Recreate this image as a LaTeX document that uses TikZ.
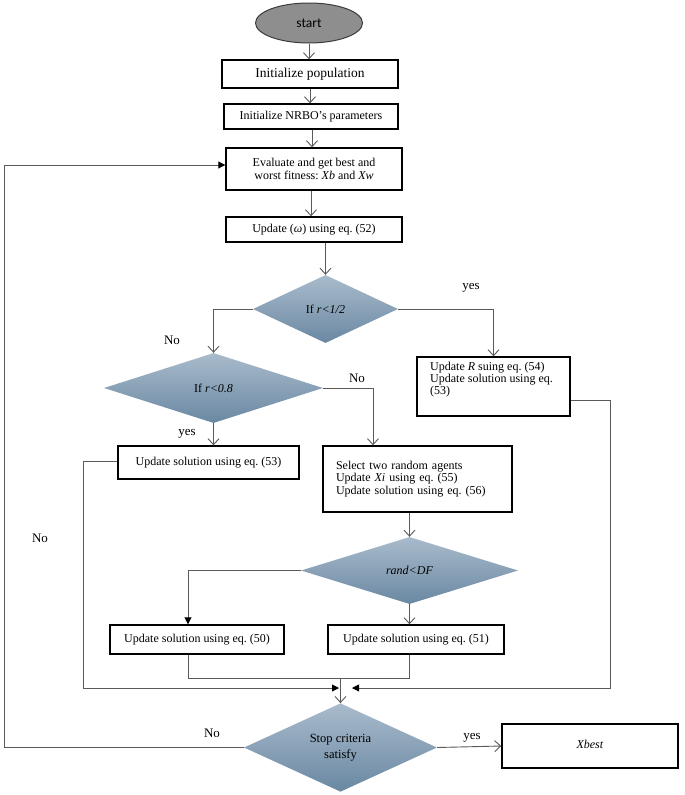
\documentclass[tikz,border=0pt]{standalone}
\usepackage{fontspec}
\setmainfont{Liberation Serif}
\newfontfamily\startfont{Carlito}
\usetikzlibrary{shapes.geometric,arrows.meta,calc}
\definecolor{linegray}{HTML}{5A5A5A}
\definecolor{diatop}{HTML}{A9BBCC}
\definecolor{diabot}{HTML}{6A88A2}
\definecolor{startgray}{HTML}{8E8E8E}
\definecolor{startborder}{HTML}{3C3C3C}
\frenchspacing
\begin{document}
\frenchspacing
\begin{tikzpicture}[x=1pt,y=-1pt,
  box/.style={draw=black,line width=1.4pt,fill=white,rectangle,inner sep=0pt,font=\fontsize{12}{13.5}\selectfont},
  dia/.style={diamond,inner sep=0pt,top color=diatop,bottom color=diabot,draw=none,font=\fontsize{12}{14}\selectfont},
  conn/.style={draw=linegray,line width=0.9pt},
  oarr/.style={conn,-{Straight Barb[length=6pt,width=11pt]}},
  farr/.style={conn,-{Triangle[length=7pt,width=7pt,color=black]}},
  lbl/.style={font=\fontsize{13}{15}\selectfont,inner sep=0pt}
]
\fill[white] (0,0) rectangle (685,795);
\useasboundingbox (0,0) rectangle (685,795);

% nodes
\node[ellipse, draw=startborder, line width=1pt, fill=startgray, minimum width=107pt, minimum height=40pt, inner sep=0pt, font=\startfont\fontsize{13.5}{15}\selectfont] (start) at (309,23) {start};
\node[box, minimum width=176pt, minimum height=28pt, font=\fontsize{13.5}{16}\selectfont] (init) at (310,74) {Initialize population};
\node[box, minimum width=174pt, minimum height=25pt] (nrbo) at (311,116.5) {Initialize NRBO's parameters};
\node[box, minimum width=176pt, minimum height=42pt, align=center] (eval) at (314,169) {Evaluate and get best and\\worst fitness: \textit{Xb} and \textit{Xw}};
\node[box, minimum width=176pt, minimum height=25pt] (omega) at (314,229.5) {Update (\textit{ω}) using eq. (52)};

\node[dia, minimum width=145pt, minimum height=68pt] (d1) at (325.5,309) {If \textit{r<1/2}};
\node[dia, minimum width=219pt, minimum height=70pt] (d2) at (213.5,388) {If \textit{r<0.8}};

\node[box, minimum width=153pt, minimum height=59pt] (rbox) at (493.5,386.5) {};
\node[anchor=north west, inner sep=0pt, align=left, font=\fontsize{12}{12}\selectfont] (rtext) at (430,362) {Update \textit{R} suing eq. (54)\\Update solution using eq.\\(53)};

\node[box, minimum width=181pt, minimum height=33pt] (box53) at (208.5,462.5) {Update solution using eq. (53)};
\node[box, minimum width=189pt, minimum height=66pt, text width=163pt, align=left, font=\fontsize{12}{12.5}\selectfont] (sel) at (417.5,479) {Select two random agents\\Update \textit{Xi} using eq. (55)\\Update solution using eq. (56)};

\node[dia, minimum width=217pt, minimum height=67pt] (d3) at (409.5,570.5) {\textit{rand<DF}};
\node[box, minimum width=174pt, minimum height=29pt] (b50) at (197,639.5) {Update solution using eq. (50)};
\node[box, minimum width=176pt, minimum height=29pt] (b51) at (416,639.5) {Update solution using eq. (51)};

\node[dia, minimum width=193pt, minimum height=81pt, align=center, font=\fontsize{12.5}{16}\selectfont] (d4) at (340.5,747.5) {Stop criteria\\satisfy};
\node[box, minimum width=176pt, minimum height=44pt] (xbest) at (590,746) {\raisebox{4pt}{\textit{Xbest}}};

% coordinates
\coordinate (k2) at (373,388);
\coordinate (k3) at (188,570.5);
\coordinate (u1) at (188,678);
\coordinate (u2) at (409.5,678);
\coordinate (m) at (340.5,678);
\coordinate (lb) at (83,688);
\coordinate (lt) at (339,688);
\coordinate (rb) at (610,688);
\coordinate (rt) at (352,688);
\coordinate (lp) at (4,747.5);
\coordinate (lq) at (4,165);

% connectors
\draw[oarr] (start.south) -- (start.south |- init.north);
\draw[oarr] (init.south) -- (init.south |- nrbo.north);
\draw[oarr] ($(nrbo.south)+(1,0)$) -- ($(nrbo.south |- eval.north)+(1,0)$);
\draw[oarr] ($(eval.south)+(-3,0)$) -- ($(omega.north)+(-3,0)$);
\draw[oarr] (omega.south -| d1.north) -- (d1.north);
\draw[oarr] (d1.west) -| (d2.north);
\draw[oarr] (d1.east) -| (rbox.north);
\draw[oarr] (d2.east) -- (k2) -- (k2 |- sel.north);
\draw[oarr] (d2.south) -- (d2.south |- box53.north);
\draw[oarr] (sel.south -| d3.north) -- (d3.north);
\draw[oarr] (d3.south) -- (d3.south |- b51.north);
\draw[farr] (d3.west) -- (k3) -- (k3 |- b50.north);
\draw[conn] (u1 |- b50.south) -- (u1) -- (u2) -- (u2 |- b51.south);
\draw[oarr] (m) -- (d4.north);
\draw[farr] ($(box53.west)+(0,-1.5)$) -| (lb) -- (lt);
\draw[farr] ($(rbox.east)+(0,13.5)$) -| (rb) -- (rt);
\draw[farr] (d4.west) -- (lp) -- (lq) -- (lq -| eval.west);
\draw[oarr] (d4.east) -- (xbest.west);

% labels
\node[lbl] (y1) at (471,288) {yes};
\node[lbl] (n1) at (172,340) {No};
\node[lbl] (n2) at (357,378) {No};
\node[lbl] (y2) at (187,434) {yes};
\node[lbl] (n3) at (40,538) {No};
\node[lbl] (n4) at (212,733) {No};
\node[lbl] (y3) at (472,738) {yes};
\end{tikzpicture}
\end{document}
